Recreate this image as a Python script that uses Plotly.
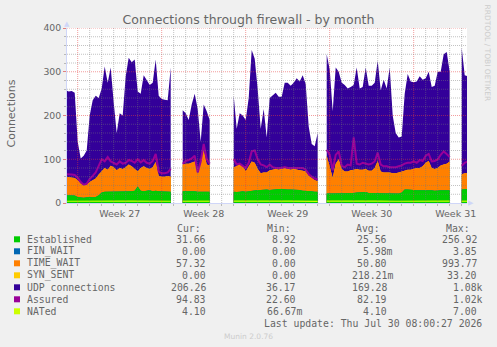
import numpy as np
import pandas as pd
import plotly.graph_objects as go

# ---------------- data (6-hour samples, None = no data) ----------------
start_time = "2026-06-28 00:00"
step = "6h"
x_range = ["2026-06-28 02:36", "2026-07-31 10:36"]
week_starts = ["2026-06-29", "2026-07-06", "2026-07-13", "2026-07-20", "2026-07-27"]
week_labels = ["Week 27", "Week 28", "Week 29", "Week 30", "Week 31"]

N = None
established = [18, 18, 18, 17, 14, 13, 12, 13, 14, 13, 14, 18, 24, 26, 26, 27, 26, 26, 27, 26,
               26, 27, 27, 28, 38, 28, 27, 28, 29, 27, 28, 27, 27, 27, 26, 26, N, N, N,
               27, 27, 28, 28, 27, 26, 26, 27, 27, 26, N, N, N, N, N, N, N,
               26, 25, 26, 27, 26, 27, 29, 30, 30, 30, 31, 31, 30, 31, 32, 32, 32, 31, 31, 31,
               31, 30, 30, 28, 28, 27, 27, 26, 26, N, N,
               22, 22, 23, 23, 23, 23, 22, 22, 23, 23, 24, 24, 25, 25,
               23, 23, 22, 22, 22, 23, 22, 22, 23, 22, 22, 24, 31, 31, 30, 29, 29, 29, 29, 30,
               29, 29, 28, 29, 29, 29, 29, 29, N, N, N, 31, 31, 32]
fin_wait = [0, 0, 0, 0, 0, 0, 0, 0, 0, 0, 0, 0, 0, 0, 0, 0, 0, 0, 0, 0,
            0, 0, 0, 0, 0, 0, 0, 0, 0, 0, 0, 0, 0, 0, 0, 0, N, N, N,
            0, 0, 0, 0, 0, 0, 0, 0, 0, 0, N, N, N, N, N, N, N,
            0, 0, 0, 0, 0, 0, 0, 0, 0, 0, 0, 0, 0, 0, 0, 0, 0, 0, 0, 0,
            0, 0, 0, 0, 0, 0, 0, 0, 0, N, N,
            0, 0, 0, 0, 0, 0, 0, 0, 0, 0, 0, 0, 0, 0,
            0, 0, 0, 0, 0, 0, 0, 0, 0, 0, 0, 0, 0, 0, 0, 0, 0, 0, 0, 0,
            0, 0, 0, 0, 0, 0, 0, 0, N, N, N, 0, 0, 0]
time_wait = [42, 41, 40, 40, 38, 31, 28, 29, 34, 39, 42, 47, 48, 54, 50, 58, 56, 49, 53, 52,
             56, 61, 57, 50, 34, 52, 57, 52, 49, 55, 66, 35, 33, 33, 36, 34, N, N, N,
             61, 63, 62, 64, 68, 39, 74, 93, 61, 60, N, N, N, N, N, N, N,
             56, 59, 64, 59, 46, 55, 66, 62, 48, 38, 39, 39, 45, 45, 46, 44, 46, 49, 47, 45,
             47, 46, 45, 46, 44, 35, 31, 26, 24, N, N,
             86, 63, 35, 67, 77, 55, 50, 50, 52, 53, 54, 52, 51, 53,
             51, 51, 58, 74, 50, 47, 48, 48, 45, 46, 48, 48, 44, 45, 46, 49, 51, 51, 55, 62,
             67, 51, 50, 51, 57, 59, 61, 66, N, N, N, 35, 37, 36]
syn_sent = [0, 0, 0, 0, 0, 0, 0, 0, 0, 0, 0, 0, 0, 0, 0, 0, 0, 0, 0, 0,
            0, 0, 0, 0, 0, 0, 0, 0, 0, 0, 0, 0, 0, 0, 0, 0, N, N, N,
            0, 0, 0, 0, 0, 0, 0, 0, 0, 0, N, N, N, N, N, N, N,
            0, 0, 0, 0, 0, 0, 0, 0, 0, 0, 0, 0, 0, 0, 0, 0, 0, 0, 0, 0,
            0, 0, 0, 0, 0, 0, 0, 0, 0, N, N,
            0, 0, 0, 0, 0, 0, 0, 0, 0, 0, 0, 0, 0, 0,
            0, 0, 0, 0, 0, 0, 0, 0, 0, 0, 0, 0, 0, 0, 0, 0, 0, 0, 0, 0,
            0, 0, 0, 0, 0, 0, 0, 0, N, N, N, 0, 0, 0]
udp = [198, 196, 198, 195, 88, 58, 68, 78, 152, 183, 189, 175, 190, 232, 199, 225, 148, 85, 125, 122,
       208, 244, 238, 250, 183, 170, 208, 200, 192, 193, 234, 183, 178, 176, 173, 250, N, N, N,
       124, 115, 100, 133, 155, 150, 40, 105, 122, 104, N, N, N, N, N, N, N,
       163, 86, 115, 114, 118, 158, 255, 238, 182, 102, 145, 80, 165, 169, 174, 167, 165, 195, 197, 192,
       197, 209, 203, 218, 200, 113, 77, 78, 110, N, N,
       232, 220, 152, 220, 200, 197, 198, 190, 190, 194, 232, 186, 189, 232,
       194, 194, 195, 229, 186, 212, 192, 240, 132, 92, 80, 80, 175, 219, 202, 198, 198, 210, 198, 193,
       204, 185, 190, 220, 214, 252, 255, 205, N, N, N, 289, 224, 222]
assured = [66, 66, 65, 64, 58, 48, 42, 44, 55, 62, 70, 85, 100, 95, 105, 95, 92, 88, 95, 90,
           92, 98, 96, 92, 100, 93, 98, 92, 90, 96, 112, 72, 68, 68, 70, 78, N, N, N,
           90, 96, 98, 102, 108, 70, 95, 135, 100, 90, N, N, N, N, N, N, N,
           100, 88, 90, 85, 80, 92, 118, 120, 100, 88, 86, 82, 88, 82, 80, 80, 80, 82, 80, 80,
           80, 80, 80, 80, 76, 66, 60, 56, 54, N, N,
           122, 110, 75, 110, 118, 85, 82, 88, 86, 150, 90, 88, 92, 90,
           88, 90, 95, 115, 88, 84, 84, 82, 82, 82, 84, 86, 90, 92, 92, 95, 92, 98, 96, 108,
           112, 95, 96, 100, 110, 118, 112, 105, N, N, N, 85, 92, 95]
nated = [4.0, 4.1, 4.0, 3.9, 3.8, 3.6, 3.5, 3.6, 3.8, 3.9, 4.0, 4.1, 4.2, 4.3, 4.2, 4.3, 4.2, 4.1, 4.2, 4.1,
         4.2, 4.3, 4.2, 4.1, 4.2, 4.1, 4.2, 4.2, 4.1, 4.2, 4.3, 4.0, 3.9, 3.9, 4.0, 4.0, N, N, N,
         4.1, 4.2, 4.2, 4.3, 4.2, 4.0, 4.1, 4.3, 4.2, 4.1, N, N, N, N, N, N, N,
         4.1, 4.0, 4.1, 4.1, 4.0, 4.1, 4.3, 4.3, 4.2, 4.0, 4.0, 4.0, 4.1, 4.1, 4.1, 4.1, 4.1, 4.2, 4.1, 4.1,
         4.1, 4.1, 4.1, 4.1, 4.0, 3.9, 3.8, 3.8, 3.8, N, N,
         4.3, 4.2, 3.9, 4.2, 4.2, 4.1, 4.0, 4.1, 4.1, 4.2, 4.1, 4.1, 4.1, 4.1,
         4.1, 4.1, 4.1, 4.3, 4.0, 4.0, 4.0, 4.0, 4.0, 4.0, 4.0, 4.0, 4.1, 4.1, 4.1, 4.1, 4.1, 4.2, 4.1, 4.2,
         4.2, 4.1, 4.1, 4.1, 4.2, 4.2, 4.2, 4.2, N, N, N, 4.1, 4.1, 4.1]

legend_names = ["Established", "FIN_WAIT", "TIME_WAIT", "SYN_SENT", "UDP connections", "Assured", "NATed"]
legend_colors = ["#00cc00", "#0066b3", "#ff8000", "#ffcc00", "#330099", "#990099", "#ccff00"]
cur_vals = ["31.66", "0.00", "57.32", "0.00", "206.26", "94.83", "4.10"]
min_vals = ["8.92", "0.00", "0.00", "0.00", "36.17", "22.60", "66.67m"]
avg_vals = ["25.56", "5.98m", "50.80", "218.21m", "169.28", "82.19", "4.10"]
max_vals = ["256.92", "3.85", "993.77", "33.20", "1.08k", "1.02k", "7.00"]
last_update = "Last update: Thu Jul 30 08:00:27 2026"
title_text = "Connections through firewall - by month"

# ---------------- geometry ----------------
W, H = 497, 347
PL, PR, PT, PB = 67, 467, 28, 203          # plot area in pixels


def px(x):
    return (x - PL) / (PR - PL)


def py(y):
    return (PB - y) / (PB - PT)


FONT = "DejaVu Sans"
MONO = "DejaVu Sans Mono"
FC = "#666666"
AXIS_C = "#cfd6f8"


def arr(a):
    return np.array([np.nan if v is None else v for v in a], dtype=float)


t = pd.date_range(start_time, periods=len(established), freq=step)
E, F, TW, S, U = arr(established), arr(fin_wait), arr(time_wait), arr(syn_sent), arr(udp)
c1 = E
c2 = c1 + F
c3 = c2 + TW
c4 = c3 + S
c5 = c4 + U

# contiguous runs of valid samples (areas must not be filled across gaps)
valid = ~np.isnan(c5)
runs = []
i = 0
while i < len(valid):
    if valid[i]:
        j = i
        while j + 1 < len(valid) and valid[j + 1]:
            j += 1
        runs.append((i, j + 1))
        i = j + 1
    else:
        i += 1

fig = go.Figure()
for yv, col in [(c5, "#330099"), (c4, "#ffcc00"), (c3, "#ff8000"), (c2, "#0066b3"), (c1, "#00cc00")]:
    for a, b in runs:
        fig.add_trace(go.Scatter(x=t[a:b], y=yv[a:b], mode="lines", fill="tozeroy", fillcolor=col,
                                 line=dict(width=0, color=col), hoverinfo="skip", showlegend=False))
fig.add_trace(go.Scatter(x=t, y=arr(assured), mode="lines", line=dict(color="#990099", width=2),
                         hoverinfo="skip", showlegend=False))
fig.add_trace(go.Scatter(x=t, y=arr(nated), mode="lines", line=dict(color="#ccff00", width=1.2),
                         hoverinfo="skip", showlegend=False))

# ---------------- grid (drawn above data like rrdtool) ----------------
shapes = []
GRID_MINOR = "rgba(120,120,120,0.45)"
GRID_MAJOR = "rgba(230,60,60,0.5)"
week_set = set(pd.to_datetime(week_starts))
for d in pd.date_range("2026-06-29", "2026-07-31", freq="D"):
    shapes.append(dict(type="line", xref="x", yref="paper", x0=d, x1=d, y0=0, y1=1, layer="above",
                       line=dict(color=GRID_MAJOR if d in week_set else GRID_MINOR, width=1, dash="1px,1px")))
for v in range(20, 401, 20):
    shapes.append(dict(type="line", xref="paper", yref="y", x0=0, x1=1, y0=v, y1=v, layer="above",
                       line=dict(color=GRID_MAJOR if v % 100 == 0 else GRID_MINOR, width=1, dash="1px,1px")))

# legend squares
ROW0, ROWH = 239.3, 12.0
for k, col in enumerate(legend_colors):
    yc = ROW0 + k * ROWH
    shapes.append(dict(type="rect", xref="paper", yref="paper", x0=px(14), x1=px(20),
                       y0=py(yc + 3), y1=py(yc - 3), fillcolor=col, line=dict(width=0)))

# ---------------- annotations ----------------
ann = []


def text(s, x, y, size, color=FC, family=FONT, xanchor="left", angle=0):
    ann.append(dict(text=s, x=px(x), y=py(y), xref="paper", yref="paper", showarrow=False,
                    xanchor=xanchor, yanchor="middle", textangle=angle, borderpad=0, borderwidth=0,
                    font=dict(family=family, size=size, color=color)))


text("Connections", 10.5, 114, 11, xanchor="center", angle=-90)
text("RRDTOOL / TOBI OETIKER", 487.5, 53, 7.5, color="#cccccc", xanchor="center", angle=90)
text("Munin 2.0.76", 248, 336, 7.5, color="#cccccc", xanchor="center")
text("\u25B2", 67, 24.5, 7, color=AXIS_C, xanchor="center")
text("\u25B6", 470.5, 203, 7, color=AXIS_C, xanchor="center")

LS = 9.8
CW = 5.96
text("Cur:", 176.7, 228.3, LS, family=MONO)
text("Min:", 266.7, 228.3, LS, family=MONO)
text("Avg:", 356.0, 228.3, LS, family=MONO)
text("Max:", 446.0, 228.3, LS, family=MONO)
col_ends = [206.0, 296.3, 386.7, 476.7]
for k, name in enumerate(legend_names):
    yc = ROW0 + k * ROWH
    text(name, 26.5, yc, LS, family=MONO)
    for vals, xe in zip([cur_vals, min_vals, avg_vals, max_vals], col_ends):
        s = vals[k]
        xr = xe + CW if s[-1].isalpha() else xe
        text(s, xr, yc, LS, family=MONO, xanchor="right")
text(last_update, 482.3, 323.3, LS, family=MONO, xanchor="right")

week_centers = pd.to_datetime(week_starts) + pd.Timedelta(hours=84)

fig.update_layout(
    width=W, height=H,
    margin=dict(l=PL, r=W - PR, t=PT, b=H - PB, pad=0),
    paper_bgcolor="#f0f0f0", plot_bgcolor="#ffffff",
    title=dict(text=title_text, x=0.5, xref="container", xanchor="center",
               y=1 - 19.3 / H, yref="container", yanchor="middle",
               font=dict(family=FONT, size=12.5, color=FC)),
    xaxis=dict(type="date", range=x_range, tickmode="array", tickvals=week_centers, ticktext=week_labels,
               showgrid=False, zeroline=False, showline=True, linecolor=AXIS_C, linewidth=1,
               ticks="", tickfont=dict(family=FONT, size=9.5, color=FC), ticklabelstandoff=2,
               minor=dict(tickmode="linear", tick0="2026-06-29", dtick=86400000, ticks="outside",
                          ticklen=2, tickcolor="#b8b8b8", showgrid=False)),
    yaxis=dict(range=[0, 400], tickmode="linear", tick0=0, dtick=100, showgrid=False, zeroline=False,
               showline=True, linecolor=AXIS_C, linewidth=1, ticks="outside", ticklen=3,
               tickcolor="#e08080", tickfont=dict(family=FONT, size=9.3, color=FC),
               minor=dict(tickmode="linear", tick0=0, dtick=20, ticks="outside", ticklen=2,
                          tickcolor="#b8b8b8", showgrid=False)),
    shapes=shapes, annotations=ann, showlegend=False,
)

fig.write_html("out.html")
